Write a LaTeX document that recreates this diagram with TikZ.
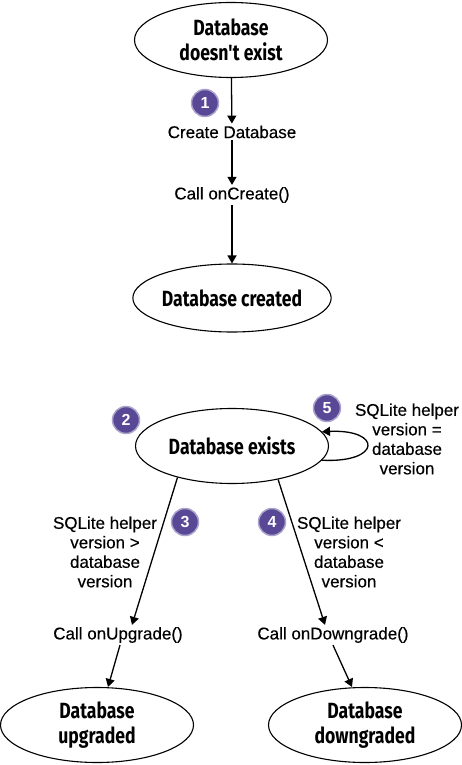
\documentclass[tikz,border=0pt]{standalone}
\usepackage{fontspec}
\setmainfont{Liberation Sans}
\newfontfamily\bodyfont{Liberation Sans}[FakeBold=0.35]
\newfontfamily\handfont{Fira Sans}
\usepackage{graphicx}
\usetikzlibrary{shapes.geometric,arrows.meta}
\definecolor{badgepurple}{RGB}{88,72,150}
\newcommand{\hand}[1]{\scalebox{0.8}[1]{#1}}

\begin{document}
\begin{tikzpicture}[
    x=1pt, y=-1pt,
    state/.style={
        draw,
        ellipse,
        line width=1.1pt,
        minimum width=193pt,
        minimum height=75pt,
        inner sep=0pt,
        align=center,
        font=\handfont\bfseries\fontsize{22}{25}\selectfont
    },
    action/.style={inner sep=2pt, align=center, font=\bodyfont\fontsize{17}{19.5}\selectfont},
    badge/.style={
        circle,
        fill=badgepurple,
        draw=badgepurple!50,
        line width=1.5pt,
        minimum size=27pt,
        inner sep=0pt,
        text=white,
        font=\bfseries\fontsize{16}{16}\selectfont
    },
    arrow/.style={-{Triangle[length=8pt,width=9pt]}, line width=1.3pt}
]
\useasboundingbox (0,0) rectangle (462,765);

% ===== Create =====
\node[state]  (nodb)     at (231,40)  {\hand{Database}\\\hand{doesn't exist}};
\node[badge]  (b1)       at (205,103) {1};
\node[action] (create)   at (232,132) {Create Database};
\node[action] (oncreate) at (232,195) {Call onCreate()};
\node[state, minimum height=68pt] (created) at (232,298) {\hand{Database created}};

% ===== Exists =====
\node[badge]  (b2)     at (126,420) {2};
\node[state]  (exists) at (232,446) {\hand{Database exists}};
\node[badge]  (b5)     at (327,408) {5};
\node[action] (same)   at (407,439) {SQLite helper\\version =\\database\\version};

% ===== Upgrade / Downgrade =====
\node[badge]  (b3)    at (185,522) {3};
\node[badge]  (b4)    at (272,522) {4};
\node[action] (newer) at (105,552) {SQLite helper\\version >\\database\\version};
\node[action] (older) at (349,552) {SQLite helper\\version <\\database\\version};
\node[action] (upg)   at (118,635) {Call onUpgrade()};
\node[action] (dwg)   at (333,635) {Call onDowngrade()};
\node[state]  (upgraded)   at (97,725)  {\hand{Database}\\\hand{upgraded}};
\node[state]  (downgraded) at (365,725) {\hand{Database}\\\hand{downgraded}};

% ===== Create Arrows =====
\draw[arrow] (nodb) -- (create);
\draw[arrow] (create) -- (oncreate);
\draw[arrow] (oncreate) -- (created);

% ===== Exists Arrows =====
\draw[arrow] (exists.-9) .. controls (382,463) and (382,429) .. (exists.9);
\draw[arrow] (exists.-150) -- ([xshift=14pt]upg.north);
\draw[arrow] (exists.-36) -- ([xshift=-8pt]dwg.north);
\draw[arrow] ([xshift=2pt]upg.south) -- ([xshift=11pt]upgraded.north);
\draw[arrow] (dwg.south) -- ([xshift=-13pt]downgraded.north);

\end{tikzpicture}
\end{document}
